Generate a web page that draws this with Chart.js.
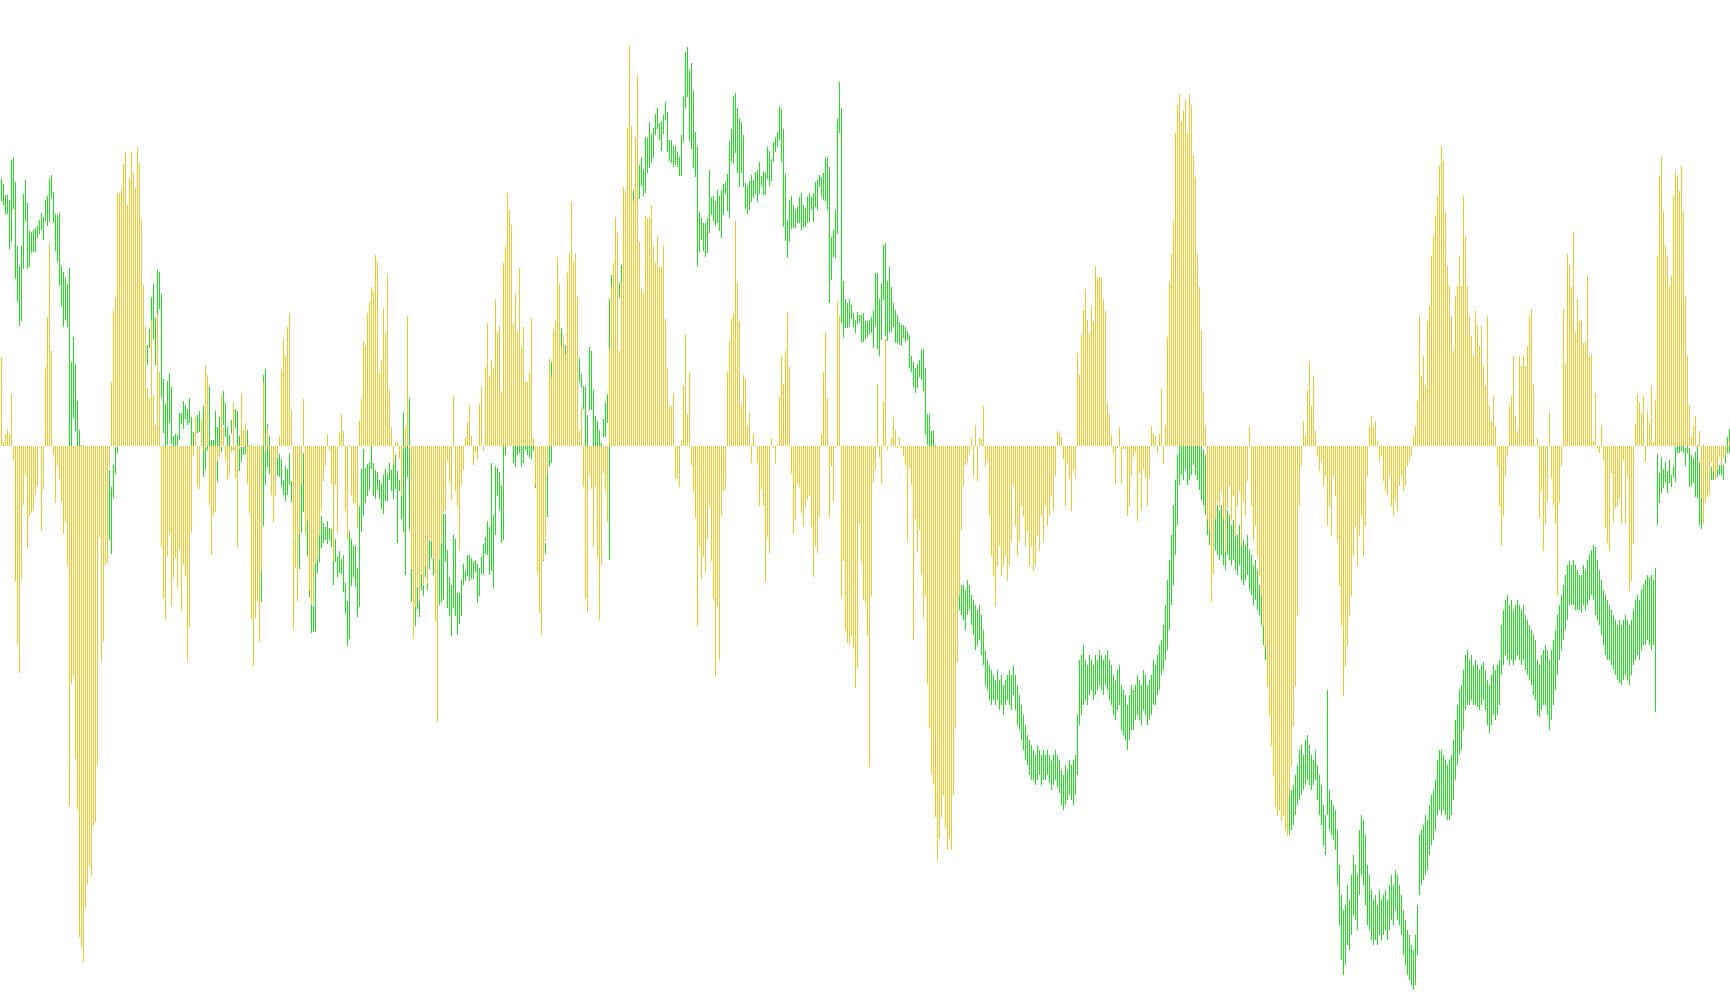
<!DOCTYPE html>
<html><head><meta charset="utf-8">
<script src="https://cdn.jsdelivr.net/npm/chart.js@4"></script>
<style>html,body{margin:0;padding:0;background:#fff;overflow:hidden}canvas{display:block}</style>
</head><body>
<canvas id="c" width="1730" height="1005"></canvas>
<script>
// Oscillator histogram (points), one value per bar
const histogram = [
89,4,12,16,12,52,-14,-135,-198,-227,-133,-59,-29,-102,-71,-67,-65,-48,-40,-1,
-85,-43,79,129,203,95,-9,-57,-20,-33,-56,-88,-76,-119,-360,-238,-230,-313,-363,-491,
-501,-516,-462,-438,-420,-430,-380,-376,-319,-91,-215,-195,-119,-117,-21,64,135,148,253,253,
257,282,294,241,268,294,273,258,299,283,227,161,119,58,48,126,51,21,132,74,
-101,-152,-174,-110,-88,-160,-132,-112,-142,-104,-165,-119,-130,-215,-182,-87,-10,29,-41,-43,
26,-5,81,71,-59,-109,-69,-66,-15,-12,51,18,-13,-34,-28,-6,44,-32,-102,-3,
53,16,23,-38,-67,-174,-220,-172,-155,-196,-125,64,-5,18,-4,-49,-76,-50,-10,10,
75,107,90,119,133,36,-185,-122,-155,-88,-39,47,-89,-74,-144,-157,-157,-118,-112,-89,
-65,-35,-20,12,-4,-38,-115,-39,-87,13,32,15,-65,-94,2,-49,-57,-57,-82,25,
47,105,100,133,144,159,155,191,184,73,86,137,113,171,56,19,-19,3,4,-13,
-49,-3,19,130,-3,-122,-193,-161,-140,-155,-127,-138,-120,-138,-93,-94,-111,-175,-276,-114,
-96,-67,-64,-15,-36,-54,50,-45,-60,-104,-39,-24,8,23,41,10,-19,-6,-14,42,
59,-5,79,123,70,86,78,147,114,120,54,183,199,253,236,221,122,152,114,178,
99,119,65,64,74,128,8,-39,-127,-167,-189,-114,-95,-27,87,69,116,125,189,162,
100,111,92,173,193,245,184,193,150,16,39,-41,-152,-166,-29,-43,-100,-40,-111,-174,
-119,-27,-45,-76,97,159,183,229,214,95,163,259,255,318,401,320,245,309,371,204,
157,153,230,228,228,241,200,184,210,179,179,200,127,78,40,40,53,-32,-33,-41,
5,60,112,32,74,-19,-46,-72,-180,-100,-133,-111,-126,-93,-60,-115,-153,-230,-160,-214,
-70,-45,-43,74,105,127,132,225,164,125,41,71,68,21,34,-17,13,2,-17,-60,
-43,-60,-136,-91,-107,8,-2,-18,2,49,90,62,95,134,79,-28,-88,-74,-38,-41,
-67,-80,-61,-54,-50,-81,-131,-100,-107,-71,12,74,114,48,-71,-20,-56,-2,145,130,
-152,-115,-185,-197,-198,-190,-202,-242,-222,-78,-117,-154,-157,-190,-321,-150,-36,-24,62,-11,
-38,44,107,-4,1,9,29,16,-2,9,-2,-10,-19,-95,-22,-39,-194,-73,-106,-84,
-128,-172,-150,-238,-282,-327,-338,-371,-415,-393,-371,-349,-382,-404,-393,-404,-349,-282,-216,-150,
-84,-40,-19,-17,-8,8,-31,21,-35,8,7,40,-20,-15,-70,-110,-130,-160,-120,-100,
-130,-120,-110,-135,-120,-95,-39,-80,-110,-95,-60,-70,-100,-85,-120,-100,-125,-120,-90,-105,
-70,-95,-60,-80,-70,-50,-65,-30,15,13,9,-13,-60,-18,-33,-65,-24,-32,93,71,
111,136,157,126,113,139,124,180,168,169,169,147,135,43,32,11,-7,-38,-2,19,
-38,-3,-3,-70,-60,-30,-11,-7,-75,-27,-65,-23,-32,-60,-32,20,13,10,-7,12,
57,-18,21,109,164,192,225,313,341,352,324,335,346,313,352,341,291,269,192,159,
115,54,21,-73,-84,-156,-128,-73,-56,-62,-45,-73,-106,-62,-40,-75,-50,-90,-60,-45,
-100,-55,-70,-35,20,-60,-95,-80,-110,-130,-150,-180,-200,-240,-270,-300,-330,-360,-370,-365,
-375,-370,-385,-390,-350,-320,-280,-240,-170,-60,-20,25,10,55,85,40,70,15,-10,-25,
-15,-40,-30,-80,-60,-90,-30,-50,-95,-140,-180,-250,-220,-200,-170,-150,-110,-80,-120,-90,
-70,-110,-80,-30,20,30,20,25,5,-15,-10,-35,-45,-50,-30,-60,-70,-55,-65,-40,
-30,-45,-40,-20,-15,-10,10,20,45,130,70,90,60,125,140,190,210,230,250,280,
300,285,235,180,160,130,95,150,160,190,160,250,210,160,130,110,90,135,120,100,
120,80,60,130,40,25,50,20,-20,-60,-100,-70,-30,-10,40,50,90,30,15,90,
80,90,80,100,130,137,62,1,8,-72,-44,-105,-78,-56,35,-32,-59,-78,-150,-57,
-20,137,82,192,181,159,214,115,148,125,126,103,104,170,90,92,5,53,-3,-7,
21,-14,-82,-97,-105,-27,-76,-62,-61,-53,-78,-14,-78,-31,-145,-135,-98,22,52,44,
33,50,-16,35,23,60,4,45,190,270,290,235,200,190,160,170,250,275,270,255,
280,235,150,90,41,9,20,30,-1,15,-52,-77,-57,-51,-49,-16,-26,-34,-24,-11,
-19,-12,-9,-1,5
];

// Price bars: high (points), one per bar
const barHigh = [
827,821,810,810,805,845,848,823,759,739,759,811,825,802,774,773,775,777,779,785,
792,788,805,809,826,830,813,791,790,792,739,733,727,721,737,643,668,641,604,575,
560,549,544,538,528,522,517,511,506,538,517,501,528,528,535,518,540,558,575,590,
600,610,620,630,640,645,650,655,660,665,665,670,675,660,676,708,721,687,736,733,
711,626,601,624,632,618,569,571,570,592,592,604,600,596,607,588,573,580,590,594,
585,599,558,575,619,565,565,594,578,588,558,614,602,578,570,585,558,596,594,569,
558,558,565,575,560,544,528,517,506,474,463,630,636,581,569,555,549,544,547,551,
546,525,539,536,551,524,517,511,506,471,520,552,533,485,415,401,399,441,446,470,
489,482,478,484,477,476,444,466,448,454,446,450,422,404,474,466,459,460,437,499,
536,556,537,541,543,565,542,535,533,525,521,530,536,531,542,535,540,550,534,525,
509,593,558,570,607,436,415,398,418,410,431,420,439,431,465,464,447,442,436,445,
462,491,491,455,428,420,470,466,412,412,425,441,434,450,450,447,444,445,441,437,
448,461,468,484,478,542,490,539,537,533,520,565,580,600,610,600,575,570,575,580,
575,570,575,580,585,580,567,549,517,495,474,455,462,532,560,643,640,650,660,670,
677,665,660,660,655,655,650,650,650,647,631,619,619,590,658,654,615,589,584,575,
562,586,603,611,706,730,735,740,745,722,740,760,775,790,800,810,815,825,835,840,
848,836,868,867,883,871,877,891,897,882,884,890,903,893,865,865,859,860,853,848,
870,908,953,958,935,942,914,873,859,793,787,782,782,787,835,808,809,804,815,809,
815,821,823,831,864,876,909,912,897,887,883,870,822,819,824,830,825,833,835,843,
829,834,832,858,854,846,863,868,873,899,896,876,831,785,805,809,800,795,798,808,
812,800,797,808,812,808,812,823,825,830,828,832,847,848,838,768,775,795,886,923,
897,724,706,702,706,700,692,685,693,690,690,692,684,684,685,688,694,732,732,706,
721,760,762,724,738,718,702,695,690,683,680,680,678,674,670,649,643,637,641,645,
655,656,637,591,591,574,575,560,545,530,515,500,490,480,470,455,440,430,425,420,
420,420,415,425,420,410,405,400,395,400,390,375,355,345,340,335,330,325,335,325,
330,320,325,330,335,330,340,330,320,310,300,290,280,270,265,260,255,250,260,255,
250,255,250,255,250,245,250,255,250,245,235,230,240,235,245,240,245,250,290,345,
350,360,345,340,350,345,340,350,345,355,350,345,350,355,345,340,330,325,335,340,
320,315,310,300,310,320,315,320,330,325,320,335,330,320,325,330,345,340,350,360,
365,380,400,425,445,470,500,525,550,560,575,578,580,570,575,580,585,575,570,565,
560,555,550,540,520,505,500,510,500,495,500,490,485,495,490,480,485,475,470,480,
470,465,460,470,455,450,440,445,435,420,410,400,385,370,350,330,310,290,270,250,
240,230,225,215,210,215,220,230,240,255,260,250,265,270,260,250,245,255,240,230,
220,200,190,315,215,205,200,195,175,140,110,95,100,120,105,130,150,140,130,175,
190,185,170,140,130,115,105,110,100,115,105,110,115,105,120,130,120,135,130,120,
110,95,85,75,70,60,55,70,100,170,175,180,190,185,200,210,215,225,245,255,
255,250,245,240,245,250,265,285,300,315,320,335,350,355,345,350,340,345,340,335,
340,343,335,325,320,330,340,335,340,345,380,395,405,410,400,405,395,400,405,400,
395,400,390,385,380,375,370,365,345,340,350,355,360,355,345,355,365,375,390,400,
410,420,430,440,444,440,445,440,435,430,430,440,435,445,450,455,460,458,445,435,
425,415,410,405,400,395,390,385,380,385,380,385,390,385,380,385,395,405,410,405,
415,420,425,430,428,430,425,437,551,532,547,536,543,534,545,530,539,558,570,575,
575,570,557,565,557,550,547,553,560,543,518,560,557,556,553,538,555,550,556,540,
550,540,551,568,576
];

// Price bars: low (points), one per bar
const barLow = [
804,800,791,791,756,763,796,726,703,679,684,736,784,736,738,752,753,753,767,771,
775,765,784,779,783,807,782,754,743,720,699,678,685,678,517,517,587,574,538,528,
517,501,495,490,485,474,469,463,463,485,474,458,474,463,465,451,507,531,552,560,
570,580,590,600,605,610,615,620,625,630,635,635,640,640,657,658,666,640,691,696,
607,572,558,560,582,561,559,559,559,565,581,576,586,580,582,558,556,565,572,573,
570,528,535,555,558,559,559,558,523,558,553,580,568,559,559,572,555,577,558,534,
543,550,551,558,538,506,474,463,453,420,403,479,520,538,531,528,517,511,529,528,
519,510,504,510,520,503,485,490,474,436,472,493,495,449,408,372,373,373,432,443,
457,462,465,461,465,458,420,443,428,432,431,413,391,359,366,419,428,418,388,398,
473,489,502,509,515,536,509,506,515,506,496,491,504,504,525,514,506,516,462,514,
486,473,430,528,475,403,388,379,396,388,415,409,428,415,436,447,430,420,415,400,
403,405,443,397,389,369,397,389,370,381,389,420,424,429,424,426,426,433,402,409,
431,430,451,450,430,434,417,470,509,495,462,465,550,560,575,570,542,538,550,552,
538,542,555,550,548,546,554,517,485,463,447,444,451,488,538,542,610,620,630,645,
659,640,635,630,630,625,625,620,620,623,617,596,538,528,595,595,538,548,544,517,
538,568,568,582,445,710,712,715,725,707,715,730,745,760,770,780,790,795,805,806,
819,809,812,832,837,842,847,870,876,865,854,871,885,853,844,842,838,840,838,829,
829,863,897,908,864,856,837,828,739,753,765,754,748,752,772,790,784,779,782,774,
767,790,811,794,787,843,841,852,832,818,832,818,796,791,795,803,807,811,803,811,
819,810,810,826,819,824,843,853,858,865,843,778,764,747,763,776,777,777,782,782,
775,778,778,782,783,795,783,798,795,818,808,805,804,795,702,725,748,747,771,872,
682,667,677,677,678,686,678,672,681,683,663,663,666,668,671,672,657,679,656,649,
665,705,669,664,672,673,678,662,662,660,659,667,663,665,637,633,618,612,617,628,
625,614,570,560,558,558,558,530,510,495,480,465,455,445,430,420,410,400,395,395,
390,385,375,390,395,380,370,355,360,365,350,340,320,315,305,300,305,300,305,295,
300,290,300,305,300,295,310,295,280,275,265,255,245,240,230,225,225,220,225,230,
220,225,225,230,222,215,220,225,218,212,200,195,200,205,210,205,200,210,230,280,
290,300,305,300,310,315,305,310,315,320,315,310,320,315,305,300,290,285,295,300,
275,270,265,255,265,275,275,285,290,285,280,295,290,280,285,290,300,300,310,315,
330,335,345,355,375,400,420,450,480,520,530,525,535,520,525,530,540,530,525,515,
505,500,490,470,460,445,440,455,450,445,450,440,435,450,445,440,445,435,430,440,
425,420,425,430,415,410,400,405,395,390,380,360,345,330,310,290,270,250,230,210,
200,195,185,175,170,175,180,190,200,205,210,215,220,225,220,215,220,225,205,190,
180,160,150,190,175,170,165,155,120,80,45,30,40,60,55,70,90,85,75,110,
130,120,100,80,75,65,60,65,60,70,65,70,75,65,75,85,80,95,85,80,
70,50,40,30,25,20,15,20,50,110,120,125,130,135,150,160,165,175,190,195,
190,195,190,185,185,190,205,225,240,250,255,275,295,300,300,305,300,300,298,295,
300,305,295,280,272,280,290,285,290,300,330,340,350,345,340,345,340,345,350,345,
340,345,335,330,325,320,310,305,290,288,295,300,300,290,275,285,300,315,330,345,
355,365,375,385,400,400,400,395,395,395,392,400,395,400,405,410,405,390,385,380,
370,360,350,345,345,340,335,330,325,322,320,325,330,325,320,330,340,345,350,345,
355,360,360,365,360,355,360,293,480,502,512,517,523,512,522,518,528,523,552,552,
554,552,539,552,518,519,522,508,507,480,476,484,538,536,525,525,525,532,528,530,
530,525,542,552,552
];

const YELLOW = '#F0C828';
const GREEN = '#1EE01E';
const n = histogram.length;
const idx = Array.from({length: n}, (_, i) => i);

new Chart(document.getElementById('c').getContext('2d'), {
  type: 'bar',
  data: {
    datasets: [
      {
        label: 'Histogram',
        data: idx.map(i => ({x: i, y: histogram[i]})),
        backgroundColor: YELLOW,
        yAxisID: 'yH',
        order: 0,
        grouped: false,
        barThickness: 1,
        inflateAmount: 0,
        borderWidth: 0
      },
      {
        label: 'Price',
        data: idx.map(i => ({x: i, y: [barLow[i], barHigh[i]]})),
        backgroundColor: GREEN,
        yAxisID: 'yP',
        order: 1,
        grouped: false,
        barThickness: 1,
        inflateAmount: 0,
        borderWidth: 0
      }
    ]
  },
  options: {
    responsive: false,
    animation: false,
    devicePixelRatio: 1,
    events: [],
    layout: {padding: 0},
    plugins: {legend: {display: false}, tooltip: {enabled: false}, title: {display: false}},
    scales: {
      x: {type: 'linear', display: false, min: -0.75, max: n - 0.75, offset: false, grid: {display: false}},
      yH: {type: 'linear', display: false, min: -559, max: 446, grid: {display: false}},
      yP: {type: 'linear', display: false, min: 0, max: 1005, grid: {display: false}}
    }
  }
});
</script>
</body></html>
